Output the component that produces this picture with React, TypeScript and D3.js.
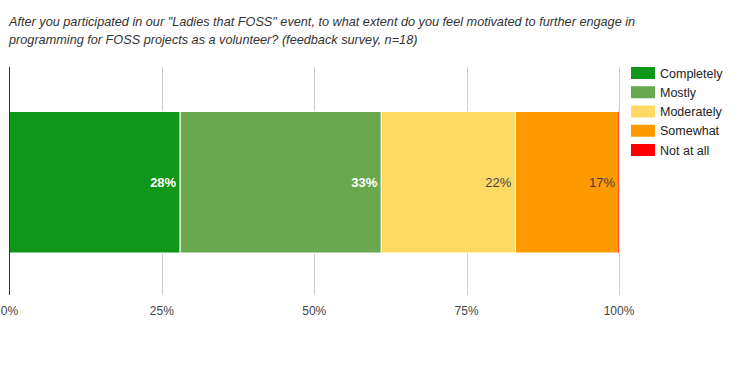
import React, { useEffect, useRef } from "react";
import * as d3 from "d3";

// Survey answers (share of respondents, n = 18)
const categories = ["Completely", "Mostly", "Moderately", "Somewhat", "Not at all"];
const shares = [28, 33, 22, 17, 0];
const colors = ["#109618", "#6aa84f", "#ffd966", "#ff9900", "#ff0000"];
const labelColors = ["#ffffff", "#ffffff", "#444444", "#444444", "#444444"];
const tickValues = [0, 0.25, 0.5, 0.75, 1];
const titleLines = [
  "After you participated in our \"Ladies that FOSS\" event, to what extent do you feel motivated to further engage in",
  "programming for FOSS projects as a volunteer? (feedback survey, n=18)",
];

const W = 747;
const H = 368;
const FONT = "'Liberation Sans', Arial, sans-serif";

const App = () => {
  const svgRef = useRef<SVGSVGElement>(null);

  useEffect(() => {
    const svg = d3.select(svgRef.current);
    svg.selectAll("*").remove();

    const total = d3.sum(shares);
    const plot = { left: 9.5, right: 619, top: 67, bottom: 295 };
    const bar = { top: 111.5, bottom: 253 };

    const x = d3.scaleLinear().domain([0, 1]).range([plot.left, plot.right]);

    // Title
    svg
      .append("g")
      .selectAll("text")
      .data(titleLines)
      .join("text")
      .attr("x", 9)
      .attr("y", (_, i) => 26 + i * 18)
      .attr("font-family", FONT)
      .attr("font-size", 12.7)
      .attr("font-style", "italic")
      .attr("fill", "#333")
      .text((d) => d);

    // Grid lines
    svg
      .append("g")
      .selectAll("line")
      .data(tickValues.slice(1))
      .join("line")
      .attr("x1", (d) => Math.round(x(d)) + 0.5)
      .attr("x2", (d) => Math.round(x(d)) + 0.5)
      .attr("y1", plot.top)
      .attr("y2", plot.bottom)
      .attr("stroke", "#cccccc");

    // Stacked segments
    let acc = 0;
    const segs = shares.map((c, i) => {
      const s = { start: acc / total, end: (acc + c) / total, value: c / total, i };
      acc += c;
      return s;
    });

    svg
      .append("g")
      .selectAll("rect")
      .data(segs.filter((s) => s.value > 0))
      .join("rect")
      .attr("x", (d) => x(d.start))
      .attr("width", (d) => x(d.end) - x(d.start))
      .attr("y", bar.top)
      .attr("height", bar.bottom - bar.top)
      .attr("fill", (d) => colors[d.i])
      .attr("stroke", "#ffffff")
      .attr("stroke-width", 1);

    // zero-sized segments still show as a hairline
    svg
      .append("g")
      .selectAll("line")
      .data(segs.filter((s) => s.value === 0))
      .join("line")
      .attr("x1", (d) => x(d.start) - 0.5)
      .attr("x2", (d) => x(d.start) - 0.5)
      .attr("y1", bar.top)
      .attr("y2", bar.bottom)
      .attr("stroke", (d) => colors[d.i])
      .attr("stroke-opacity", 0.6);

    // Value labels
    svg
      .append("g")
      .selectAll("text")
      .data(segs.filter((s) => s.value > 0))
      .join("text")
      .attr("x", (d) => x(d.end) - 4)
      .attr("y", (bar.top + bar.bottom) / 2 + 5)
      .attr("text-anchor", "end")
      .attr("font-family", FONT)
      .attr("font-size", 13)
      .attr("font-weight", (d) => (d.i < 2 ? "bold" : "normal"))
      .attr("fill", (d) => labelColors[d.i])
      .text((d) => d3.format(".0%")(d.value));

    // Baseline
    svg
      .append("line")
      .attr("x1", plot.left)
      .attr("x2", plot.left)
      .attr("y1", plot.top)
      .attr("y2", plot.bottom)
      .attr("stroke", "#333333");

    // Tick labels
    svg
      .append("g")
      .selectAll("text")
      .data(tickValues)
      .join("text")
      .attr("x", (d) => x(d))
      .attr("y", 315)
      .attr("text-anchor", "middle")
      .attr("font-family", FONT)
      .attr("font-size", 12)
      .attr("fill", "#444")
      .text((d) => d3.format(".0%")(d));

    // Legend
    const legend = svg
      .append("g")
      .attr("transform", "translate(631, 67)")
      .selectAll("g")
      .data(categories)
      .join("g")
      .attr("transform", (_, i) => `translate(0, ${i * 19.25})`);

    legend
      .append("rect")
      .attr("width", 24)
      .attr("height", 12)
      .attr("fill", (_, i) => colors[i]);

    legend
      .append("text")
      .attr("x", 29)
      .attr("y", 10.5)
      .attr("font-family", FONT)
      .attr("font-size", 12.5)
      .attr("fill", "#222")
      .text((d) => d);
  }, []);

  return (
    <svg
      ref={svgRef}
      width={W}
      height={H}
      style={{ position: "absolute", left: 0, top: 0, background: "#fff" }}
    />
  );
};

export default App;
